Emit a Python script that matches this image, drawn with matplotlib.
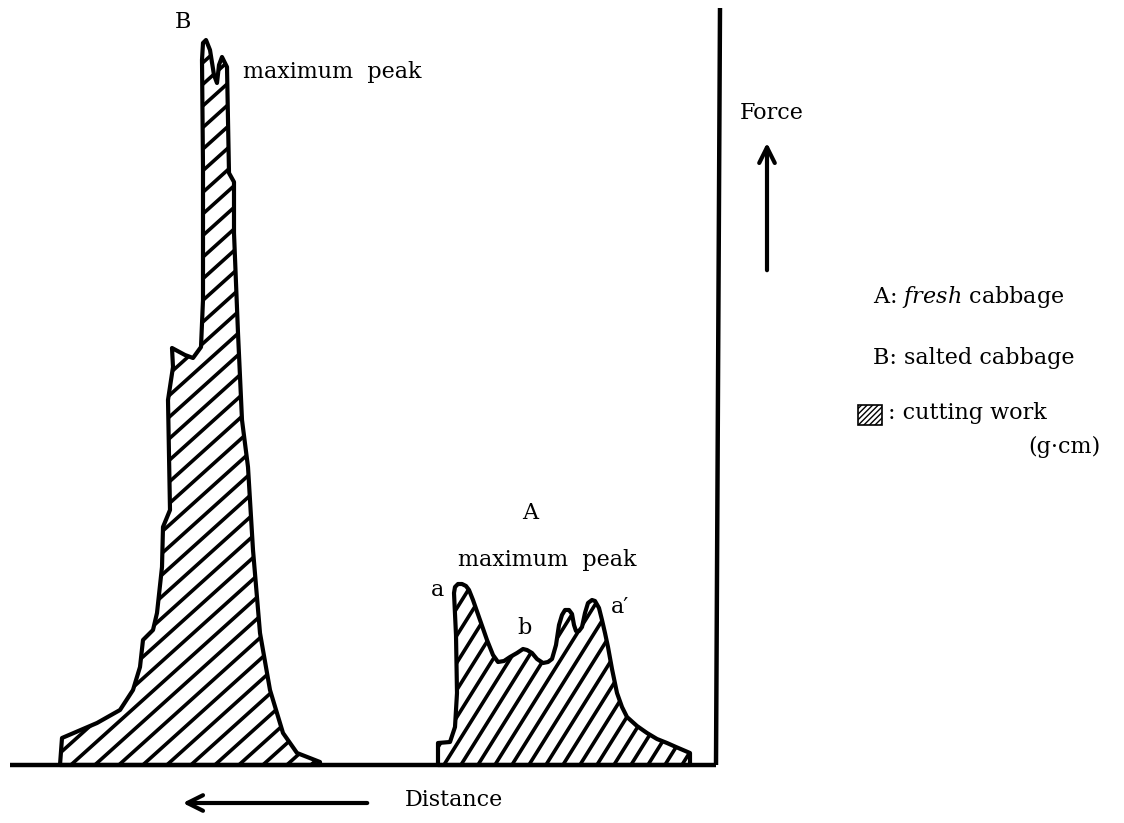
import numpy as np
import matplotlib
matplotlib.use("Agg")
import matplotlib.pyplot as plt
from matplotlib.patches import Polygon, Rectangle
from matplotlib.collections import LineCollection

plt.rcParams["mathtext.fontset"] = "dejavuserif"

# ---- data: traced force-distance outlines (distance units, force units) ----
B_distance = [60, 62, 97, 120, 133, 140, 143, 153, 157, 162, 163, 170, 168, 173, 172,
              185, 193, 201, 203, 203, 202, 203, 206, 210, 214, 217, 219, 222, 227,
              229, 234, 234, 238, 242, 248, 253, 260, 270, 283, 297, 320, 320]
B_force = [0, 27, 42, 55, 75, 98, 125, 135, 152, 198, 238, 255, 365, 398, 417,
           410, 407, 418, 465, 598, 705, 722, 725, 715, 690, 682, 700, 708, 698,
           592, 583, 532, 432, 345, 298, 215, 132, 75, 32, 12, 3, 0]

A_distance = [438, 438, 450, 455, 457, 456, 454, 455, 458, 462, 466, 469, 473, 480,
              487, 493, 498, 504, 510, 517, 523, 527, 532, 537, 543, 548, 552, 556,
              559, 562, 565, 569, 572, 574, 576, 579, 582, 585, 588, 592, 595, 599,
              602, 605, 608, 612, 617, 622, 627, 637, 647, 657, 667, 676, 683, 690, 690]
A_force = [0, 22, 23, 38, 72, 130, 172, 178, 181, 181, 179, 175, 165, 145,
           125, 110, 103, 104, 108, 112, 116, 115, 112, 106, 102, 103, 106, 120,
           140, 150, 155, 155, 151, 140, 134, 134, 138, 152, 162, 165, 164, 157,
           145, 132, 118, 96, 72, 58, 48, 39, 32, 26, 22, 18, 15, 12, 0]

legend_items = [r"A: $\mathit{fresh}$ cabbage", "B: salted cabbage", ": cutting work", "(g\u00b7cm)"]

SERIF = ["DejaVu Serif"]

fig = plt.figure(figsize=(11.24, 8.23), dpi=100)
ax = fig.add_axes([0, 0, 1, 1])
ax.set_xlim(0, 1124)
ax.set_ylim(-58, 765)
ax.axis("off")


def hatched_area(xs, ys, angle, spacing, hatch_lw):
    poly = Polygon(np.column_stack([xs, ys]), closed=True, facecolor="white",
                   edgecolor="none", zorder=1)
    ax.add_patch(poly)
    x0, x1 = min(xs), max(xs)
    y0, y1 = min(ys), max(ys)
    H = y1 - y0
    run = H / np.tan(np.radians(angle))
    starts = np.arange(x0 - run - spacing, x1 + spacing, spacing)
    segs = [[(c, y0), (c + run, y1)] for c in starts]
    lc = LineCollection(segs, colors="black", linewidths=hatch_lw, zorder=2)
    lc.set_clip_path(poly)
    ax.add_collection(lc)
    ax.add_patch(Polygon(np.column_stack([xs, ys]), closed=True, facecolor="none",
                         edgecolor="black", linewidth=3.0, joinstyle="round", zorder=3))


hatched_area(B_distance, B_force, 42, 24, 2.6)
hatched_area(A_distance, A_force, 58, 17, 2.6)

# axes lines
ax.plot([10, 716], [0, 0], color="black", lw=3.2, solid_capstyle="butt", zorder=4)
ax.plot([716, 720], [0, 757], color="black", lw=3.2, solid_capstyle="butt", zorder=4)

# arrows
ax.annotate("", xy=(767, 625), xytext=(767, 492),
            arrowprops=dict(arrowstyle="->", lw=3, color="black", mutation_scale=28))
ax.annotate("", xy=(180, -38), xytext=(370, -38),
            arrowprops=dict(arrowstyle="->", lw=3, color="black", mutation_scale=28))

# texts
kw = dict(family=SERIF, fontsize=16, color="black")
ax.text(183, 743, "B", ha="center", va="center", **kw)
ax.text(243, 693, "maximum  peak", ha="left", va="center", **kw)
ax.text(530, 252, "A", ha="center", va="center", **kw)
ax.text(547, 205, "maximum  peak", ha="center", va="center", **kw)
ax.text(437, 175, "a", ha="center", va="center", **kw)
ax.text(525, 137, "b", ha="center", va="center", **kw)
ax.text(620, 158, "a\u2032", ha="center", va="center", **kw)
ax.text(740, 652, "Force", ha="left", va="center", **kw)
ax.text(405, -35, "Distance", ha="left", va="center", **kw)

ax.text(873, 468, legend_items[0], ha="left", va="center", **kw)
ax.text(873, 407, legend_items[1], ha="left", va="center", **kw)
ax.add_patch(Rectangle((858, 340), 24, 20, facecolor="white", edgecolor="black",
                       lw=1.2, hatch="//////"))
ax.text(888, 352, legend_items[2], ha="left", va="center", **kw)
ax.text(1028, 318, legend_items[3], ha="left", va="center", **kw)

fig.savefig("out.png", dpi=100)
